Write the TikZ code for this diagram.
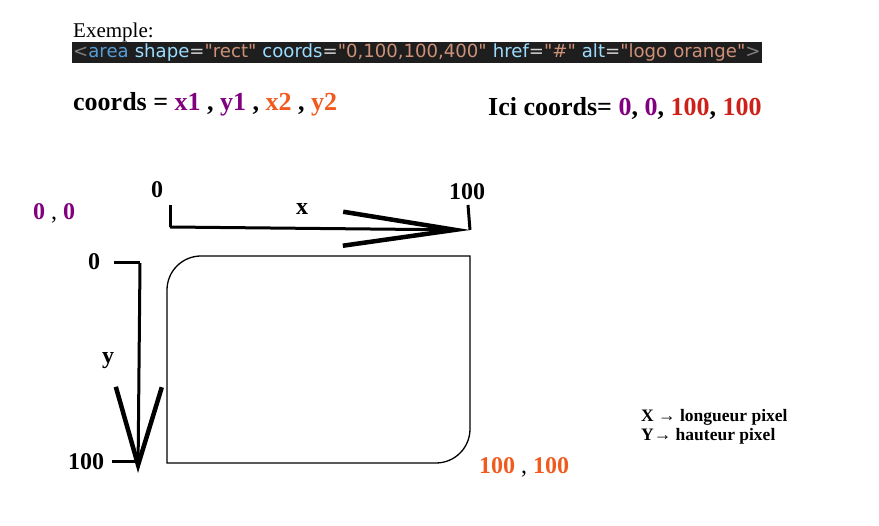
\documentclass[tikz,border=0pt]{standalone}
\usepackage{fontspec}
\setmainfont{Liberation Serif}
\setsansfont{DejaVu Sans}[Ligatures=TeXOff]
\usepackage{xcolor}
\usetikzlibrary{arrows.meta,positioning}
\definecolor{codebg}{HTML}{1E1E1E}
\definecolor{tagc}{HTML}{808080}
\definecolor{kwc}{HTML}{569CD6}
\definecolor{attc}{HTML}{9CDCFE}
\definecolor{eqc}{HTML}{D4D4D4}
\definecolor{valc}{HTML}{CE9178}
\definecolor{purp}{HTML}{800080}
\definecolor{orng}{HTML}{F05A1E}
\definecolor{redc}{HTML}{CC2018}
\newcommand{\att}[2]{\textcolor{attc}{#1}\textcolor{eqc}{=}\textcolor{valc}{"#2"}}

\begin{document}
\begin{tikzpicture}[x=1pt, y=-1pt,
    txt/.style={inner sep=0pt, anchor=base west, font=\fontsize{21}{24}\selectfont},
    big/.style={txt, font=\bfseries\fontsize{26}{30}\selectfont},
    num/.style={inner sep=0pt, anchor=base, font=\bfseries\fontsize{24}{28}\selectfont},
    legend/.style={txt, font=\bfseries\fontsize{17.5}{20}\selectfont},
    code/.style={fill=codebg, anchor=west, inner xsep=1pt, inner ysep=0pt,
                 minimum height=21pt, text width=688pt, align=left,
                 font=\sffamily\fontsize{18.1}{19}\selectfont},
    tick/.style={line width=3pt},
    xaxis/.style={line width=3pt, -{Straight Barb[length=112pt, width=34pt, line width=4.5pt]}},
    yaxis/.style={line width=3pt, -{Straight Barb[length=78pt, width=46pt, line width=4.5pt]}},
    frame/.style={line width=1.3pt}
  ]
    \useasboundingbox (0,0) rectangle (879,526);

    \node[txt] (ex) at (73,38) {Exemple:};
    \node[code] (html) at (72,52.5) {\textcolor{tagc}{<}\textcolor{kwc}{area}
      \att{shape}{rect} \att{coords}{0,100,100,400} \att{href}{\#}
      \att{alt}{logo orange}\textcolor{tagc}{>}};
    \node[big] (fmt) at (73,111) {coords = \textcolor{purp}{x1} , \textcolor{purp}{y1} ,
      \textcolor{orng}{x2} , \textcolor{orng}{y2}};
    \node[big] (ici) at (488,116) {Ici coords= \textcolor{purp}{0}, \textcolor{purp}{0},
      \textcolor{redc}{100}, \textcolor{redc}{100}};

    \node[num, anchor=base west, text=purp] (orig) at (33,220)
      {0 {\mdseries\color{black},} 0};
    \node[num] (x0) at (157,198) {0};
    \node[num] (x100) at (467,200) {100};
    \node[num] (xl) at (302,215) {x};
    \node[num] (y0) at (94,270) {0};
    \node[num] (yl) at (108,364) {y};
    \node[num] (y100) at (86,470) {100};
    \node[num, anchor=base west, text=orng] (corner) at (479,474)
      {100 {\mdseries\color{black},} 100};

    \node[legend] (leg1) at (641,422) {X → longueur pixel};
    \node[legend] (leg2) at (641,441) {Y→ hauteur pixel};

    \coordinate (xa) at (170,205);
    \coordinate (xb) at (170,227);
    \coordinate (xc) at (470,230);
    \coordinate (xd) at (468,205);
    \coordinate (ya) at (114,263);
    \coordinate (yb) at (140,263);
    \coordinate (yc) at (138,473);
    \coordinate (yd) at (112,462);
    \coordinate (ye) at (136,462);

    \foreach \a/\b in {xa/xb, xd/xc, ya/yb, yd/ye}
      \draw[tick] (\a) -- (\b);
    \draw[xaxis] (xb) -- (xc);
    \draw[yaxis] (yb) -- (yc);

    \draw[frame, rounded corners=34pt] (167,360) -- (167,256) -- (318,256)
      [sharp corners] -- (470,256) -- (470,360)
      [rounded corners=34pt] -- (470,463) -- (318,463)
      [sharp corners] -- (167,463) -- cycle;
  \end{tikzpicture}
\end{document}
